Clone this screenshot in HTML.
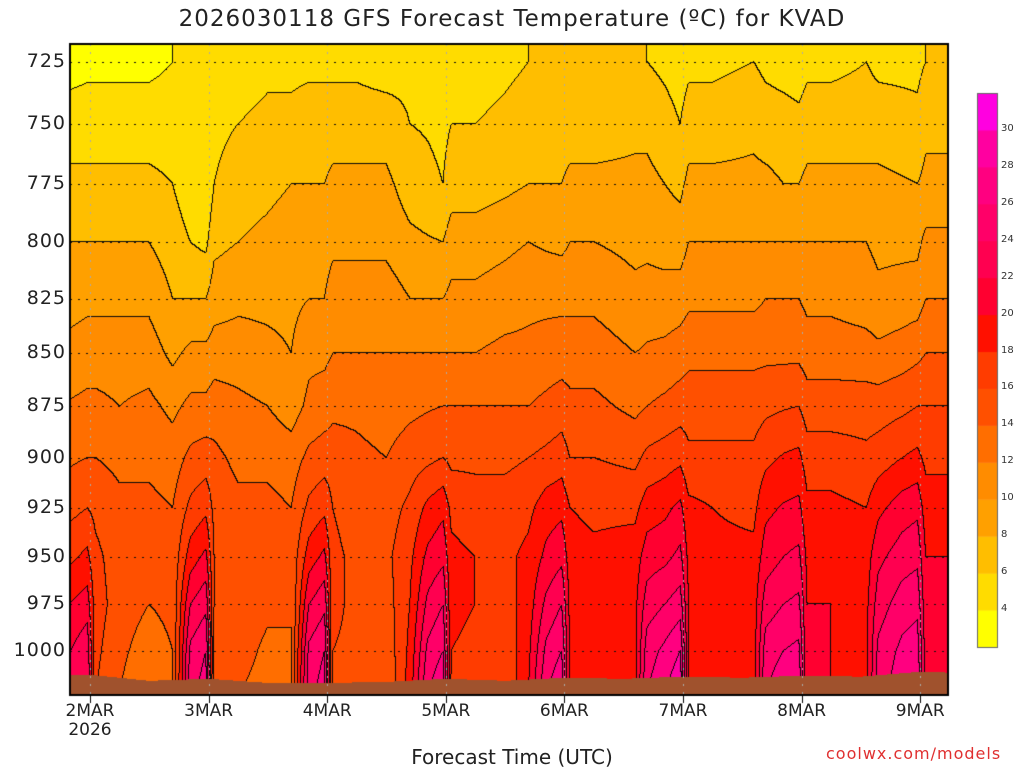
<!DOCTYPE html>
<html><head><meta charset="utf-8">
<style>
body{margin:0;background:#fff;width:1024px;height:768px;overflow:hidden;font-family:"DejaVu Sans","Liberation Sans",sans-serif;}
#wrap{position:relative;width:1024px;height:768px;}
.t{position:absolute;color:#222;white-space:nowrap;}
</style></head>
<body>
<div id="wrap">
<div class="t" style="left:0;width:1024px;text-align:center;top:6px;font-size:23px;letter-spacing:1px;">2026030118 GFS Forecast Temperature (ºC) for KVAD</div>
<canvas id="cv" width="1024" height="768" style="position:absolute;left:0;top:0"></canvas>
<div id="labels"></div>
<div class="t" style="left:0;width:1024px;text-align:center;top:745px;font-size:20px;">Forecast Time (UTC)</div>
<div class="t" style="left:826px;top:744px;font-size:16px;color:#e03030;letter-spacing:1px;">coolwx.com/models</div>
</div>
<script>
const levels=[725,750,775,800,825,850,875,900,925,950,975,1000,1025];
const times=[-0.25,-0.02,0.05,0.25,0.5,0.7,0.85,0.98,1.05,1.25,1.5,1.7,1.85,1.98,2.05,2.25,2.5,2.7,2.85,2.98,3.05,3.25,3.5,3.7,3.85,3.98,4.05,4.25,4.6,4.7,4.85,4.98,5.05,5.25,5.6,5.7,5.85,5.98,6.05,6.25,6.55,6.65,6.85,6.98,7.05,7.3];
const temps=[
[3,5,6.5,8,9,10.5,12,13.5,15,17,19.5,21,22],
[3.5,5,6.5,8,9.5,11,12.5,14,16,18.5,21,23.5,24],
[3.5,5,6.5,8,9.5,11,12.5,14,15.5,16.5,17,16.5,16],
[3.5,5,6.5,8,9.5,11,12,13.5,14.5,15,15,14.5,14],
[3.5,5,6.5,8,9.5,11,12.5,13.5,14.5,15,14,13,12],
[4,5,6,7,8,9.5,11.5,13,14,14.5,14.5,14,14],
[4.5,4.8,4.8,6,8,10.5,12.5,14.5,16.5,19,22,24.5,25.5],
[4.5,4.5,4,5.5,8,10.5,12.5,15,17.5,20.5,23.5,26,27],
[5,5.5,6,7.5,9,11,13,14.5,15.5,16,16,15.5,15],
[5,6,7,8,9.5,11,12.5,13.5,14.5,15.5,15.5,15,14],
[5.5,6.5,7.5,8.5,9.5,10.5,12,13.5,14.5,15,14.5,13.5,13],
[5.5,6.5,8,9,9.5,10,11,13,14,14.5,14,14,14],
[5.5,7,8,9,10,11.5,12.5,14.5,16.5,19,22,24.5,25.5],
[5.5,7,8,9,10,11.5,13,15,17.5,20.5,23.5,26,27],
[5.5,7,8.5,9.5,11,12,13.5,15,16,16.5,16.5,16,15.5],
[5.5,7,8.5,9.5,11,12,13.5,14.5,15,15.5,15.5,15.5,15],
[5,7,8.5,9.5,11,12,13,14,15,15.5,15,14.5,14],
[5.5,6,7,8.5,10,12,13.5,15,16.5,17.5,18,18.5,19],
[5,5.8,6.5,8.2,10,12,13.8,15.5,18.5,20.5,22.5,24.5,26],
[4.5,5.5,6,8,10,12,14,16,19.5,21.5,24,26,28],
[5,6,7,9,10.5,12,14,15.5,17.5,18.5,18.5,18,17.5],
[5,6,7,9,10.5,12,14,15.5,17,18,18,17.5,17],
[5.5,6.5,7.5,9.5,11,12.5,14,15.5,17,17.5,17,16.5,16],
[6,7,8,10,11.5,12.5,14,16,17.5,18.5,19,19.5,20],
[6,7,8,9.7,11.5,12.8,14.5,16.5,19,20.5,22.5,24.5,26],
[6,7,8,9.5,11.5,13,15,17,19.5,21.5,24,26,28],
[6,7,8.5,10,11.5,13,14.5,16,18,19,19.5,19.5,19],
[6,7,8.5,10,11.5,13,14.5,16,17.5,18.5,19,19,18.5],
[6,7.5,8.5,9.5,10.5,12,13.5,15.5,17.5,19,19.5,19.5,19.5],
[6,7.5,8.5,9.5,10.8,12.3,14,16.5,19,21,23,25,26],
[5.5,6.8,8,9.2,10.8,12.5,14.5,17,19.5,21.5,24,26.5,28],
[5,6,7.5,9,11,13,15,17.5,20.5,22.5,25,28,30],
[5.5,7,8.5,10,11.5,13.5,15,16.5,18.5,19.5,20,20,20],
[5.5,7,8.5,10,11.5,13.5,15,16.5,18,18.5,19,19,19],
[6,7.5,8.5,10,11.5,13.5,15,16.5,17.5,18.5,19,19,19],
[5.5,7,8.5,10,12,13.5,15.5,17.5,19.5,21,23,25,26],
[5.2,6.8,8,10,12,13.5,15.8,18.2,20.2,22,24,26,27.5],
[5,6.5,8,10,12,13.5,16,18.5,20.5,22.5,24.5,26.5,28],
[5.5,7,8.5,10,11.5,13,15,17,18.5,19.5,20,20,20],
[5.5,7,8.5,10,11.5,13,15,17,18.5,19.5,20,20,20],
[6,7,8.5,10,11,12.8,15,16.5,18,19,19.5,19.5,19.5],
[5.5,7,8.5,9.5,10.5,12.5,15,17,19.5,21.5,23,24.5,25],
[5.5,6.7,8.2,9.5,10.8,13,15.5,18,21,23,25,26.5,27.5],
[5.5,6.5,8,9.5,11,13.5,16,18.5,21.5,23.5,25.5,27,28],
[6,7.5,8.5,10.5,12,14,16,17.5,19,20,20.5,21,21],
[6,7.5,8.5,10.5,12,14,16,17.5,19,20,20.5,21,21]];
const sfcTimes=[-0.25,0,0.5,1,1.5,2,2.5,3,3.5,4,4.5,5,5.5,6,6.5,7,7.3];
const sfcP=[1013.7,1013.2,1016.5,1015.4,1017.7,1017.7,1017.1,1015.4,1016.5,1014.8,1015.4,1014.2,1014.8,1013.7,1014.2,1011.5,1012.1];
const colors=["#ffff00","#ffdc00","#ffbe00","#ffa000","#ff8c00","#ff6e00","#ff5000","#ff3c00","#ff1000","#ff0030","#ff0050","#ff0068","#ff0080","#ff00a0","#ff00e0"];
const dayLabels=["2MAR","3MAR","4MAR","5MAR","6MAR","7MAR","8MAR","9MAR"];
const pTicks=[725,750,775,800,825,850,875,900,925,950,975,1000];
const legendTicks=[4,6,8,10,12,14,16,18,20,22,24,26,28,30];

const L=70,R=948,T=44,B=695;
function xOf(d){return 90+d*118.6;}
function dOf(x){return (x-90)/118.6;}
function yOf(p){return 62+1831*Math.log(p/725);}
function pOf(y){return 725*Math.exp((y-62)/1831);}
function interp1(xs,ys,x){
  if(x<=xs[0])return ys[0];
  for(let i=1;i<xs.length;i++){if(x<=xs[i]){const f=(x-xs[i-1])/(xs[i]-xs[i-1]);return ys[i-1]+f*(ys[i]-ys[i-1]);}}
  return ys[ys.length-1];
}
const lnl=levels.map(Math.log);
function tempAt(d,p){
  let i=0;while(i<times.length-2&&d>times[i+1])i++;
  let f=(d-times[i])/(times[i+1]-times[i]);f=Math.max(0,Math.min(1,f));
  const lp=Math.log(p);
  const a=interp1(lnl,temps[i],lp),b=interp1(lnl,temps[i+1],lp);
  return a+f*(b-a);
}
function hex(c){return [parseInt(c.substr(1,2),16),parseInt(c.substr(3,2),16),parseInt(c.substr(5,2),16)];}
const rgb=colors.map(hex);
const cv=document.getElementById('cv');const ctx=cv.getContext('2d');
const W=R-L,H=B-T;
const bins=new Int16Array(W*H);
const img=ctx.createImageData(W,H);
for(let x=0;x<W;x++){
  const d=dOf(L+x+0.5);
  const ps=interp1(sfcTimes,sfcP,d);
  for(let y=0;y<H;y++){
    const p=pOf(T+y+0.5);
    let b;
    if(p>ps)b=-1;else{const t=tempAt(d,p);b=Math.floor((t-2)/2);b=Math.max(0,Math.min(14,b));}
    bins[y*W+x]=b;
  }
}
for(let y=0;y<H;y++)for(let x=0;x<W;x++){
  const b=bins[y*W+x];let c;
  if(b<0)c=[160,82,45];else{
    const r=x+1<W?bins[y*W+x+1]:b,dn=y+1<H?bins[(y+1)*W+x]:b;
    if((r!==b&&r>=0)||(dn!==b&&dn>=0))c=[10,10,10];else c=rgb[b];
  }
  const k=(y*W+x)*4;img.data[k]=c[0];img.data[k+1]=c[1];img.data[k+2]=c[2];img.data[k+3]=255;
}
ctx.putImageData(img,L,T);
ctx.save();ctx.beginPath();ctx.rect(L,T,W,H);ctx.clip();
ctx.setLineDash([2,6]);ctx.lineWidth=1;
ctx.strokeStyle="#111";
pTicks.forEach(p=>{const y=Math.round(yOf(p))+0.5;ctx.beginPath();ctx.moveTo(L,y);ctx.lineTo(R,y);ctx.stroke();});
ctx.strokeStyle="#aaa";
dayLabels.forEach((l,i)=>{const x=Math.round(xOf(i))+0.5;ctx.beginPath();ctx.moveTo(x,T);ctx.lineTo(x,B);ctx.stroke();});
ctx.restore();
ctx.setLineDash([]);ctx.lineWidth=2;ctx.strokeStyle="#000";ctx.strokeRect(L,T,W,H);
ctx.lineWidth=1;
dayLabels.forEach((l,i)=>{const x=Math.round(xOf(i))+0.5;ctx.beginPath();ctx.moveTo(x,B);ctx.lineTo(x,B+8);ctx.stroke();});
const LX=977,LT=93,LB=647,LW=20,bh=(LB-LT)/colors.length;
colors.forEach((c,i)=>{ctx.fillStyle=c;ctx.fillRect(LX,LB-(i+1)*bh,LW,bh+0.5);});
ctx.strokeStyle="#666";ctx.lineWidth=1;ctx.strokeRect(LX+0.5,LT+0.5,LW,LB-LT);
const lab=document.getElementById('labels');
pTicks.forEach(p=>{
  const e=document.createElement('div');e.className='t';
  
  
  e.style.cssText=`right:${1024-66}px;top:${yOf(p)-12}px;font-size:19px;letter-spacing:1px;`;
  e.textContent=p;lab.appendChild(e);
});
dayLabels.forEach((l,i)=>{
  const e=document.createElement('div');e.className='t';
  
  
  e.style.cssText=`left:${xOf(i)-40}px;width:80px;text-align:center;top:701px;font-size:17px;`;
  e.textContent=l;lab.appendChild(e);
});
{const e=document.createElement('div');e.className='t';


e.style.cssText=`left:${xOf(0)-40}px;width:80px;text-align:center;top:720px;font-size:17px;`;e.textContent="2026";lab.appendChild(e);}
legendTicks.forEach(v=>{
  const y=LB-(v-2)/2*bh;
  const e=document.createElement('div');e.className='t';
  
  
  e.style.cssText=`left:1001px;top:${y-7}px;font-size:10px;color:#333;`;
  e.textContent=v;lab.appendChild(e);
});
</script>
</body></html>
